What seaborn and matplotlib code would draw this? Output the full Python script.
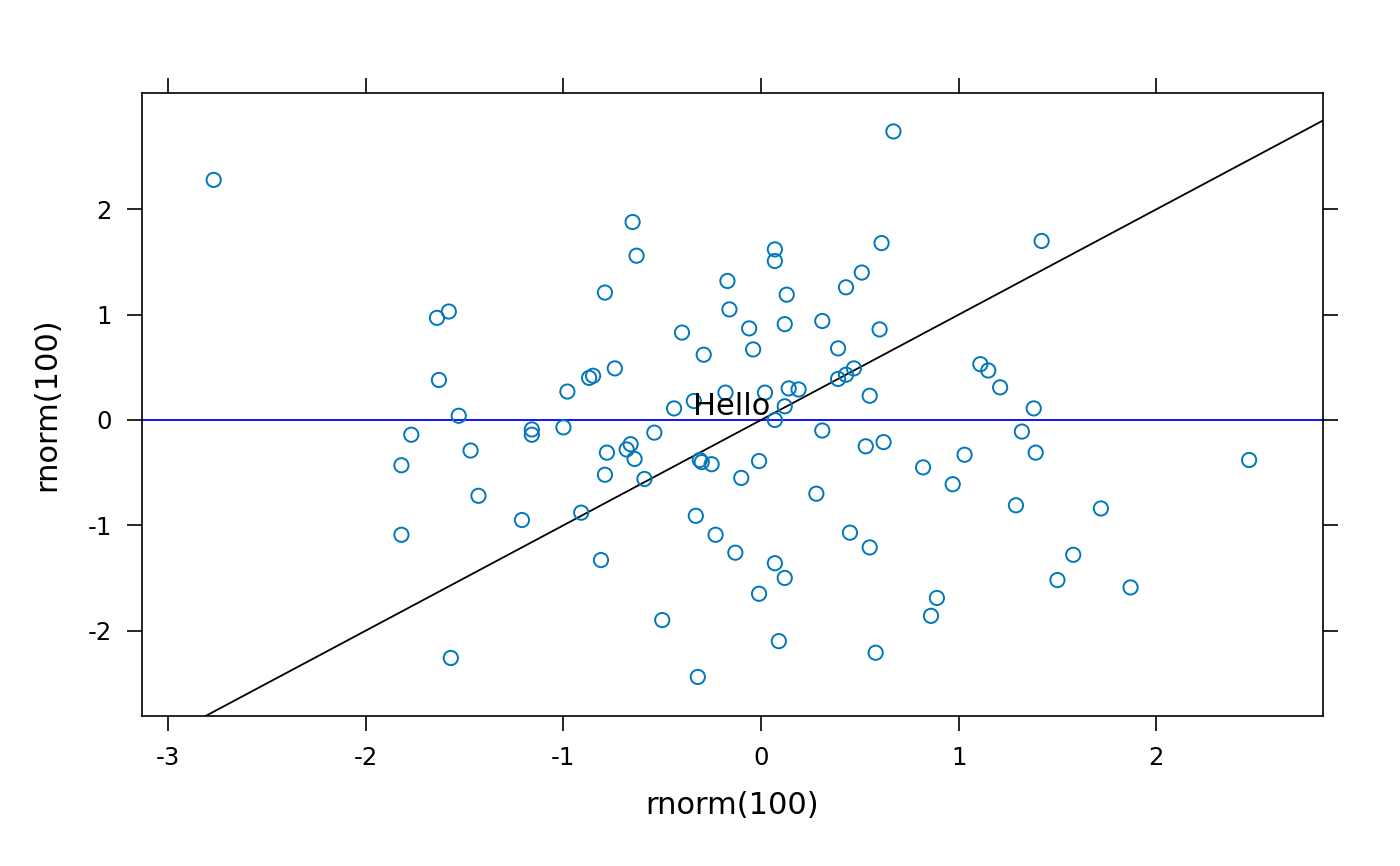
import pandas as pd
import seaborn as sns
import matplotlib.pyplot as plt

# points
x = [-2.77, 0.67, -0.65, 0.07, 0.61, 1.42, -0.63, 0.07, 0.51, -0.17,
     -0.79, 0.13, 0.43, -0.16, -1.58, -1.64, 0.12, 0.31, -0.06, 0.60,
     -0.40, -0.04, 0.39, -0.29, 1.11, 1.15, -0.74, 0.47, -0.87, -0.85,
     -1.63, 0.43, 0.39, 1.21, 0.14, 0.19, -0.98, 0.02, -0.18, 0.55,
     -0.34, -0.44, 0.12, 1.38, -1.53, 0.07, -1.00, 0.31, -0.54, 0.53,
     0.62, -0.66, -0.68, -0.78, -0.64, -0.31, -0.30, -0.25, -0.01, 0.82,
     -0.79, -0.59, -0.10, 0.28, -0.91, -0.33, 0.45, -0.23, 0.55, -0.13,
     -0.81, 0.07, 0.12, -0.01, 0.89, 0.86, -0.50, 0.09, 0.58, -0.32,
     -1.77, -1.16, -1.16, -1.47, -1.82, -1.43, -1.21, -1.82, -1.57, 1.32,
     1.39, 2.47, 1.03, 0.97, 1.29, 1.72, 1.58, 1.50, 1.87]
y = [2.28, 2.74, 1.88, 1.62, 1.68, 1.70, 1.56, 1.51, 1.40, 1.32,
     1.21, 1.19, 1.26, 1.05, 1.03, 0.97, 0.91, 0.94, 0.87, 0.86,
     0.83, 0.67, 0.68, 0.62, 0.53, 0.47, 0.49, 0.49, 0.40, 0.42,
     0.38, 0.43, 0.39, 0.31, 0.30, 0.29, 0.27, 0.26, 0.26, 0.23,
     0.18, 0.11, 0.13, 0.11, 0.04, 0.00, -0.07, -0.10, -0.12, -0.25,
     -0.21, -0.23, -0.28, -0.31, -0.37, -0.38, -0.40, -0.42, -0.39, -0.45,
     -0.52, -0.56, -0.55, -0.70, -0.88, -0.91, -1.07, -1.09, -1.21, -1.26,
     -1.33, -1.36, -1.50, -1.65, -1.69, -1.86, -1.90, -2.10, -2.21, -2.44,
     -0.14, -0.09, -0.14, -0.29, -0.43, -0.72, -0.95, -1.09, -2.26, -0.11,
     -0.31, -0.38, -0.33, -0.61, -0.81, -0.84, -1.28, -1.52, -1.59]
xticks = [-3, -2, -1, 0, 1, 2]
yticks = [-2, -1, 0, 1, 2]

df = pd.DataFrame({'x': x, 'y': y})

sns.set_style('white')
plt.rcParams['font.family'] = ['DejaVu Sans']
plt.rcParams['text.color'] = 'black'
plt.rcParams['axes.labelcolor'] = 'black'
plt.rcParams['xtick.color'] = 'black'
plt.rcParams['ytick.color'] = 'black'

fig = plt.figure(figsize=(14, 8.66), dpi=100)
ax = fig.add_axes([0.1014, 0.1732, 0.8436, 0.7194])

sns.scatterplot(data=df, x='x', y='y', ax=ax, marker='o', s=105,
                facecolor='none', edgecolor='#0077bb', linewidth=1.4, zorder=3)
ax.axhline(0, color='blue', lw=1.3, zorder=2)
ax.axline((0, 0), slope=1, color='black', lw=1.3, zorder=2)
ax.text(-0.147, 0.047, 'Hello', fontsize=22, ha='center', va='baseline', zorder=4)

ax.set_xlim(-3.133, 2.844)
ax.set_ylim(-2.811, 3.105)
ax.set_xticks(xticks)
ax.set_yticks(yticks)
ax.set_xticklabels([str(t) for t in xticks])
ax.set_yticklabels([str(t) for t in yticks])
ax.tick_params(axis='both', which='both', direction='out', length=10.5, width=1.2,
               labelsize=17.6, color='black', pad=11,
               top=True, right=True, bottom=True, left=True,
               labeltop=False, labelright=False)
for sp in ax.spines.values():
    sp.set_color('black')
    sp.set_linewidth(1.2)
ax.set_xlabel('rnorm(100)', fontsize=22, labelpad=15)
ax.set_ylabel('rnorm(100)', fontsize=22, labelpad=19)

plt.savefig('out.png', dpi=100)
